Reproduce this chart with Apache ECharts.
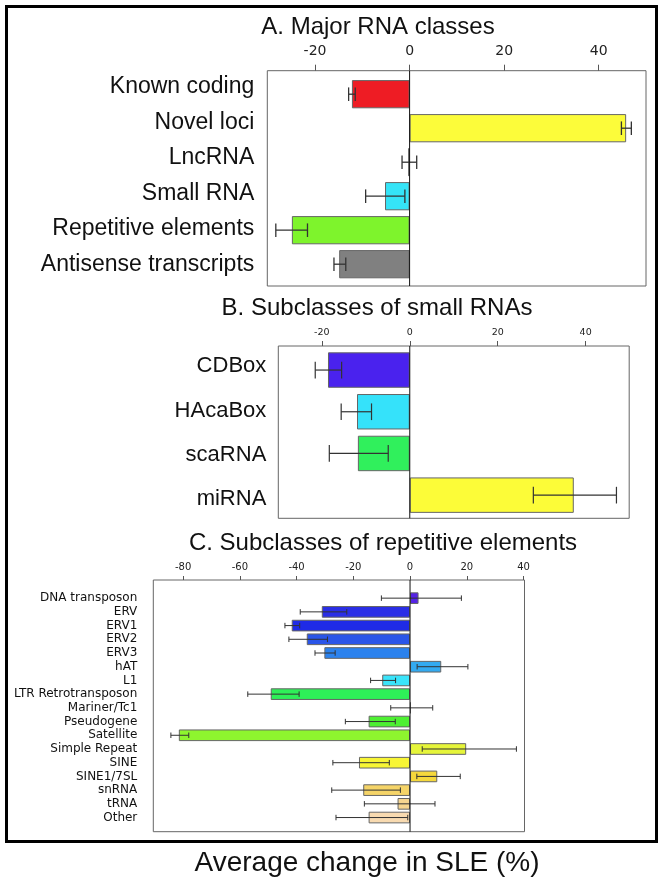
<!DOCTYPE html>
<html>
<head>
<meta charset="utf-8">
<title>Average change in SLE</title>
<script src="https://cdn.jsdelivr.net/npm/echarts@6/dist/echarts.min.js"></script>
<style>
  html, body { margin: 0; padding: 0; background: #fff; }
  #chart { width: 664px; height: 887px; }
</style>
</head>
<body>
<div id="chart"></div>
<script>
  // A. Major RNA classes
  const majorNames = ['Known coding', 'Novel loci', 'LncRNA', 'Small RNA', 'Repetitive elements', 'Antisense transcripts']
  const majorValues = [-12.2, 45.8, -0.3, -5.2, -24.9, -14.9]
  const majorLow = [-12.9, 44.8, -1.6, -9.3, -28.3, -16.0]
  const majorHigh = [-11.5, 46.9, 1.5, -1.0, -21.6, -13.5]
  const majorColors = ['#ee1c24', '#fcfc3a', '#444444', '#35e4f7', '#7ef42c', '#808080']
  const majorTicks = [-20, 0, 20, 40]

  // B. Subclasses of small RNAs
  const smallNames = ['CDBox', 'HAcaBox', 'scaRNA', 'miRNA']
  const smallValues = [-18.6, -12.0, -11.8, 37.3]
  const smallLow = [-21.5, -15.6, -18.3, 28.1]
  const smallHigh = [-15.5, -8.7, -4.9, 47.0]
  const smallColors = ['#4a22ee', '#35e2fa', '#30f05c', '#fcfc38']
  const smallTicks = [-20, 0, 20, 40]

  // C. Subclasses of repetitive elements
  const repNames = ['DNA transposon', 'ERV', 'ERV1', 'ERV2', 'ERV3', 'hAT', 'L1', 'LTR Retrotransposon',
    'Mariner/Tc1', 'Pseudogene', 'Satellite', 'Simple Repeat', 'SINE', 'SINE1/7SL', 'snRNA', 'tRNA', 'Other']
  const repValues = [3.0, -31.1, -41.7, -36.4, -30.2, 11.0, -9.8, -49.1, 0.3, -14.6, -81.5, 19.8, -18.0, 9.6, -16.5, -4.4, -14.6]
  const repLow = [-10.1, -38.7, -44.1, -42.7, -33.5, 2.5, -13.9, -57.2, -6.8, -22.8, -84.3, 4.3, -27.2, 2.4, -27.6, -16.1, -26.1]
  const repHigh = [18.1, -22.3, -38.9, -29.1, -26.4, 20.4, -5.1, -39.1, 8.0, -5.2, -78.0, 37.5, -7.3, 17.7, -3.4, 8.8, -0.8]
  const repColors = ['#5522e6', '#2a2ee6', '#1f2be6', '#2a55e8', '#2b82ee', '#33aaf0', '#3ae4fa', '#2ef058',
    '#222222', '#4ef032', '#8ef52e', '#e6f53a', '#f8f535', '#f5d83c', '#f5d468', '#f5d590', '#f8dab0']
  const repTicks = [-80, -60, -40, -20, 0, 20, 40]

  const sans = '"Liberation Sans", Arial, sans-serif'
  const deja = '"DejaVu Sans", sans-serif'

  const panels = [
    {
      names: majorNames, values: majorValues, low: majorLow, high: majorHigh, colors: majorColors, ticks: majorTicks,
      min: -30.1, max: 50, box: [267.3, 70.7, 646, 286], bars: [77.2, 281.2], labels: [68.9, 282.5],
      labelFont: sans, labelSize: 23, labelMargin: 13, tickSize: 14, tickLen: 6, tickMargin: 12.5,
      gap: '17%', errWidth: 1.3
    },
    {
      names: smallNames, values: smallValues, low: smallLow, high: smallHigh, colors: smallColors, ticks: smallTicks,
      min: -29.9, max: 49.9, box: [278.3, 346, 629.2, 518.3], bars: [349.2, 516], labels: [344.2, 520.9],
      labelFont: sans, labelSize: 22, labelMargin: 12, tickSize: 9.5, tickLen: 5, tickMargin: 8.5,
      gap: '15%', errWidth: 1.2
    },
    {
      names: repNames, values: repValues, low: repLow, high: repHigh, colors: repColors, ticks: repTicks,
      min: -90.5, max: 40.35, box: [153.3, 580, 524.5, 831.7], bars: [591.3, 824.4], labels: [591.3, 824.4],
      labelFont: deja, labelSize: 12, labelMargin: 16, tickSize: 10, tickLen: 4, tickMargin: 8,
      gap: '15%', errWidth: 1
    }
  ]

  function errorBars(width) {
    return function(params, api) {
      let cat = api.value(2)
      let a = api.coord([api.value(0), cat])
      let b = api.coord([api.value(1), cat])
      let half = api.size([0, 1])[1] * 0.2
      let style = {stroke: '#333', lineWidth: width}
      return {
        type: 'group',
        children: [
          {type: 'line', shape: {x1: a[0], y1: a[1], x2: b[0], y2: b[1]}, style: style},
          {type: 'line', shape: {x1: a[0], y1: a[1] - half, x2: a[0], y2: a[1] + half}, style: style},
          {type: 'line', shape: {x1: b[0], y1: b[1] - half, x2: b[0], y2: b[1] + half}, style: style}
        ]
      }
    }
  }

  const grid = [], xAxis = [], yAxis = [], series = []

  panels.forEach(function(p) {
    let left = p.box[0]
    let width = p.box[2] - p.box[0]

    // frame grid: box, top ticks and the zero line
    let gBox = grid.length
    grid.push({left: left, top: p.box[1], width: width, height: p.box[3] - p.box[1],
      show: true, borderColor: '#666', borderWidth: 1, backgroundColor: 'transparent'})
    xAxis.push({
      gridIndex: gBox, type: 'value', position: 'top', min: p.min, max: p.max,
      axisLine: {show: false, onZero: false}, splitLine: {show: false},
      axisTick: {show: true, inside: false, length: p.tickLen, customValues: p.ticks, lineStyle: {color: '#555'}},
      axisLabel: {customValues: p.ticks, margin: p.tickMargin, fontSize: p.tickSize, fontFamily: deja, color: '#222'}
    })
    yAxis.push({gridIndex: gBox, type: 'value', min: 0, max: 1, show: false})
    series.push({
      type: 'line', xAxisIndex: gBox, yAxisIndex: gBox, data: [[0, 0], [0, 1]],
      symbol: 'none', silent: true, z: 5, lineStyle: {color: '#111', width: 1}
    })

    // bars grid
    let gBar = grid.length
    grid.push({left: left, top: p.bars[0], width: width, height: p.bars[1] - p.bars[0]})
    xAxis.push({gridIndex: gBar, type: 'value', min: p.min, max: p.max, show: false})
    let sameRows = p.labels[0] === p.bars[0]
    yAxis.push({
      gridIndex: gBar, type: 'category', inverse: true, data: p.names,
      axisLine: {show: false}, axisTick: {show: false}, splitLine: {show: false},
      axisLabel: {show: sameRows, interval: 0, margin: p.labelMargin, fontSize: p.labelSize, fontFamily: p.labelFont, color: '#111'}
    })
    series.push({
      type: 'bar', xAxisIndex: gBar, yAxisIndex: gBar, barCategoryGap: p.gap, silent: true,
      data: p.values.map(function(v, i) {
        return {value: v, itemStyle: {color: p.colors[i], borderColor: '#666', borderWidth: 1}}
      })
    })
    series.push({
      type: 'custom', xAxisIndex: gBar, yAxisIndex: gBar, silent: true, z: 4,
      renderItem: errorBars(p.errWidth),
      encode: {x: [0, 1], y: 2},
      data: p.low.map(function(l, i) { return [l, p.high[i], i] })
    })

    // label grid, for panels whose row labels sit off the bar centres
    if (!sameRows) {
      let gLab = grid.length
      grid.push({left: left, top: p.labels[0], width: width, height: p.labels[1] - p.labels[0]})
      xAxis.push({gridIndex: gLab, type: 'value', min: p.min, max: p.max, show: false})
      yAxis.push({
        gridIndex: gLab, type: 'category', inverse: true, data: p.names,
        axisLine: {show: false}, axisTick: {show: false}, splitLine: {show: false},
        axisLabel: {interval: 0, margin: p.labelMargin, fontSize: p.labelSize, fontFamily: p.labelFont, color: '#111'}
      })
    }
  })

  function heading(text, x, y, size) {
    return {
      type: 'text', x: x, y: y, silent: true,
      style: {text: text, font: size + 'px ' + sans, fill: '#111', textAlign: 'center', textVerticalAlign: 'middle'}
    }
  }

  const chart = echarts.init(document.getElementById('chart'))
  chart.setOption({
    animation: false,
    grid: grid,
    xAxis: xAxis,
    yAxis: yAxis,
    series: series,
    graphic: [
      {type: 'rect', silent: true, shape: {x: 6.5, y: 6.5, width: 650, height: 835},
        style: {fill: 'none', stroke: '#000', lineWidth: 3}},
      heading('A. Major RNA classes', 378, 27, 24),
      heading('B. Subclasses of small RNAs', 377, 308, 24),
      heading('C. Subclasses of repetitive elements', 383, 543, 24),
      heading('Average change in SLE (%)', 367, 863, 28)
    ]
  })
</script>
</body>
</html>
